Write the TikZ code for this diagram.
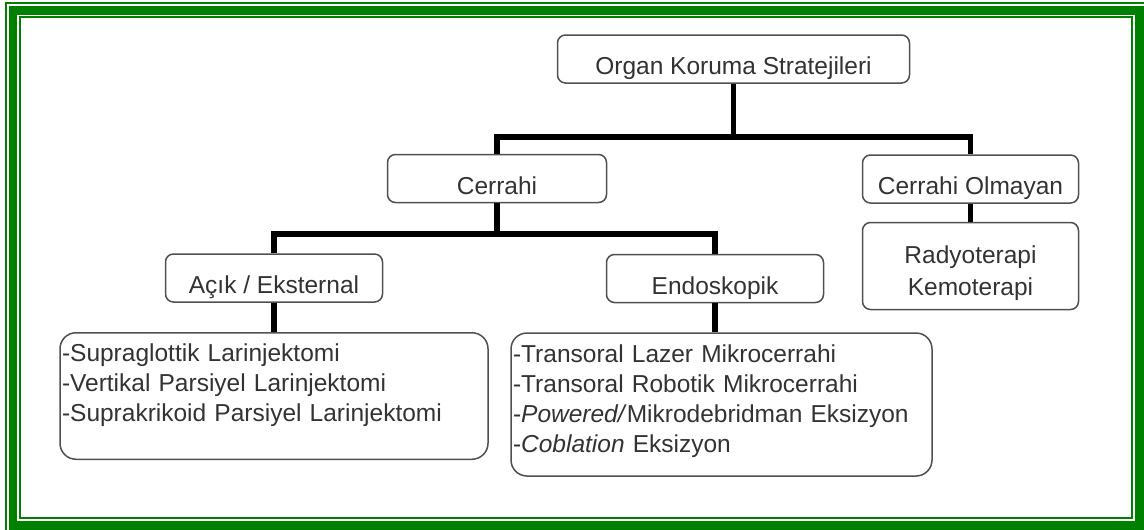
\documentclass[tikz,border=0pt]{standalone}
\usepackage{fontspec}
\setmainfont{Liberation Sans}

\definecolor{framegreen}{RGB}{0,128,0}
\definecolor{boxgray}{RGB}{80,80,80}
\definecolor{txtgray}{RGB}{51,51,51}

\begin{document}
\begin{tikzpicture}
		[x=1pt, y=-1pt,
		box/.style={draw=boxgray, line width=1.5pt, rounded corners=8pt, fill=white, text=txtgray, font=\fontsize{24.5}{30}\selectfont, inner ysep=0pt, text height=39.5pt, text depth=8.5pt},
		listbox/.style={box, rounded corners=16pt, align=left, inner xsep=2pt, text height=29pt},
		link/.style={line width=5.5pt}]
		\useasboundingbox (0,0) rectangle (1144,530);
		\clip (0,0) rectangle (1144,530);
		\fill[white] (0,0) rectangle (1144,530);
		\draw[framegreen, line width=1.8pt] (6,2.7) rectangle (1150,536);
		\draw[framegreen, line width=8.8pt] (13,10.4) rectangle (1139.4,525.4);
		\draw[framegreen, line width=2pt] (20,16.5) rectangle (1132,518);

		\node[box, minimum width=352pt] (org) at (733.5,59) {Organ Koruma Stratejileri};
		\node[box, minimum width=219pt] (cer) at (497,178.5) {Cerrahi};
		\node[box, minimum width=216pt] (olm) at (970.5,179) {Cerrahi Olmayan};
		\node[box, minimum width=216pt, align=center, font=\fontsize{24.5}{31.5}\selectfont, text height=72.5pt, text depth=14.5pt] (radyo) at (970.5,266) {Radyoterapi\\Kemoterapi};
		\node[box, minimum width=217pt] (acik) at (274,278) {Açık / Eksternal};
		\node[box, minimum width=217pt] (endo) at (715,278.5) {Endoskopik};
		\node[listbox, text width=424pt, text depth=97.5pt] (acikl) at (274,396)
			{-Supraglottik Larinjektomi\\-Vertikal Parsiyel Larinjektomi\\-Suprakrikoid Parsiyel Larinjektomi};
		\node[listbox, text width=417pt, text depth=114pt] (endol) at (721.5,404.5)
			{-Transoral Lazer Mikrocerrahi\\-Transoral Robotik Mikrocerrahi\\-\textit{Powered/}Mikrodebridman Eksizyon\\-\textit{Coblation} Eksizyon};

		\coordinate (j1) at (733.5,137);
		\coordinate (j2) at (497,234);
		\draw[link] (org.south) -- (j1);
		\draw[link] (cer.north) |- (j1) -| (olm.north);
		\draw[link] (cer.south) -- (j2);
		\draw[link] (acik.north) |- (j2) -| (endo.north);
		\draw[link] (acik.south) -- (acikl.north);
		\draw[link] (endo.south) -- (endo.south |- endol.north);
		\draw[link] (olm.south) -- (radyo.north);
	\end{tikzpicture}
\end{document}
